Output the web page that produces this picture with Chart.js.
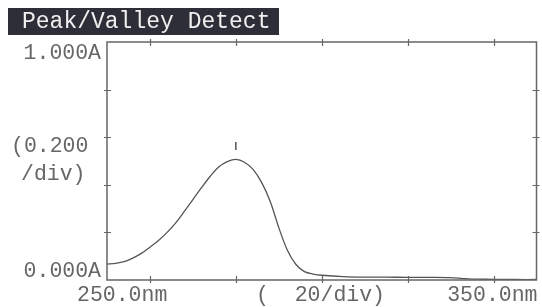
<!DOCTYPE html>
<html>
<head>
<meta charset="utf-8">
<script src="https://cdn.jsdelivr.net/npm/chart.js@4"></script>
<style>
  html, body { margin: 0; padding: 0; background: #fff; }
  #wrap { width: 542px; height: 307px; position: relative; }
</style>
</head>
<body>
<div id="wrap"><canvas id="spectrum"></canvas></div>
<script>
// wavelength (nm) and absorbance
const wavelengths = [250, 252, 254, 256, 258, 260, 262, 264, 266, 268, 270, 272, 274, 276, 278, 280,
  282, 284, 286, 288, 290, 292, 294, 296, 298, 300, 305, 310, 315, 320, 325, 330, 333, 335, 340, 345, 350];
const absorbance = [0.067, 0.070, 0.077, 0.092, 0.112, 0.138, 0.166, 0.200, 0.240, 0.288, 0.338, 0.388, 0.435, 0.475, 0.497, 0.507,
  0.495, 0.465, 0.410, 0.330, 0.220, 0.125, 0.065, 0.035, 0.025, 0.020, 0.014, 0.012, 0.012, 0.011, 0.011, 0.010, 0.006, 0.004, 0.003, 0.002, 0.002];
const peakWavelength = [280];
const peakMarker = [0.563];
const xTicks = [260, 280, 300, 320, 340];
const yTicks = [0.2, 0.4, 0.6, 0.8];
const titleText = 'Peak/Valley Detect';
const yTopLabel = '1.000A';
const yBottomLabel = '0.000A';
const yScaleLabel = ['(0.200', '/div)'];
const xLeftLabel = '250.0nm';
const xMidLabel = '(  20/div)';
const xRightLabel = '350.0nm';

const FONT = '"Liberation Mono", "DejaVu Sans Mono", monospace';

// frame, tick marks and screen text
const screenPlugin = {
  id: 'screen',
  afterDraw(chart) {
    const ctx = chart.ctx;
    const a = chart.chartArea;
    const xs = chart.scales.x, ys = chart.scales.y;
    ctx.save();
    ctx.strokeStyle = '#666';
    ctx.lineWidth = 1.5;
    ctx.strokeRect(a.left, a.top, a.right - a.left, a.bottom - a.top);
    ctx.lineWidth = 1.2;
    ctx.beginPath();
    xTicks.forEach(v => {
      const px = Math.round(xs.getPixelForValue(v)) + 0.5;
      ctx.moveTo(px, a.top - 3); ctx.lineTo(px, a.top + 4);
      ctx.moveTo(px, a.bottom - 4); ctx.lineTo(px, a.bottom + 3);
    });
    yTicks.forEach(v => {
      const py = Math.round(ys.getPixelForValue(v)) + 0.5;
      ctx.moveTo(a.left - 3, py); ctx.lineTo(a.left + 4, py);
      ctx.moveTo(a.right - 4, py); ctx.lineTo(a.right + 3, py);
    });
    ctx.stroke();

    // title bar
    ctx.fillStyle = '#2e2e38';
    ctx.fillRect(8, 8, 271, 27);
    ctx.fillStyle = '#f0f0f0';
    ctx.font = '23px ' + FONT;
    ctx.textBaseline = 'middle';
    ctx.textAlign = 'left';
    ctx.fillText(titleText, 22, 22);

    ctx.fillStyle = '#666';
    ctx.font = '21.5px ' + FONT;
    ctx.textAlign = 'right';
    ctx.fillText(yTopLabel, a.left - 6, a.top + 11);
    ctx.fillText(yBottomLabel, a.left - 6, a.bottom - 9);
    ctx.textAlign = 'left';
    ctx.fillText(yScaleLabel[0], 11, 146);
    ctx.fillText(yScaleLabel[1], 21, 174);
    ctx.fillText(xLeftLabel, 77, 295);
    ctx.fillText(xMidLabel, 256, 295);
    ctx.textAlign = 'right';
    ctx.fillText(xRightLabel, a.right + 1, 295);
    ctx.restore();
  }
};

new Chart(document.getElementById('spectrum'), {
  type: 'line',
  data: {
    datasets: [{
      data: wavelengths.map((w, i) => ({ x: w, y: absorbance[i] })),
      borderColor: '#555',
      borderWidth: 1.3,
      pointRadius: 0,
      tension: 0.35
    }, {
      data: peakWavelength.map((w, i) => ({ x: w, y: peakMarker[i] })),
      showLine: false,
      pointStyle: 'line',
      rotation: 90,
      pointRadius: 4,
      borderColor: '#555',
      borderWidth: 1.5
    }]
  },
  options: {
    responsive: true,
    maintainAspectRatio: false,
    animation: false,
    layout: { padding: { left: 107, right: 2, top: 42, bottom: 27 } },
    scales: {
      x: { type: 'linear', min: 250, max: 350, display: false },
      y: { min: 0, max: 1, display: false }
    },
    plugins: {
      legend: { display: false },
      tooltip: { enabled: false }
    }
  },
  plugins: [screenPlugin]
});
</script>
</body>
</html>
